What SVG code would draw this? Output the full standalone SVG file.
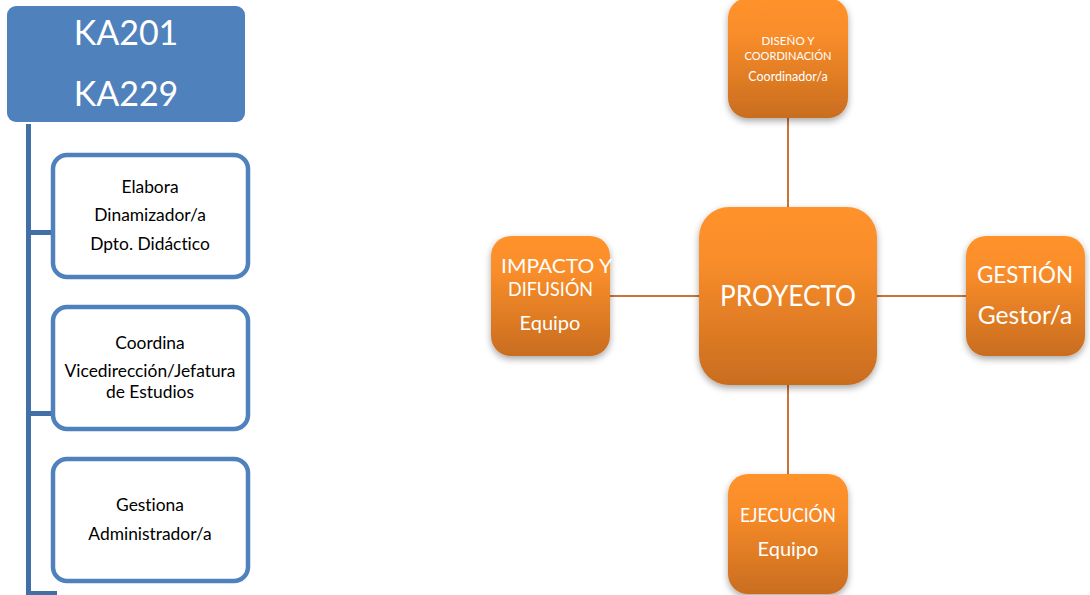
<svg xmlns="http://www.w3.org/2000/svg" width="1090" height="595" viewBox="0 0 1090 595">
<style>
text{font-family:Lato,"Liberation Sans",sans-serif;text-anchor:middle;font-variant-ligatures:none}
.o{fill:url(#og);filter:url(#sh)}
.w{fill:#fff}
.k{fill:#000;font-size:17.4px}
.c{fill:#fff;stroke:#4f81bd;stroke-width:4.5px}
.b{fill:#416fa6}
.l{stroke:#c8733a;stroke-width:2px;fill:none}
</style>
<defs>
<linearGradient id="og" x1="0" y1="0" x2="0" y2="1"><stop offset="0" stop-color="#ff922c"/><stop offset="0.3" stop-color="#f98d2a"/><stop offset="1" stop-color="#c96d1f"/></linearGradient>
<filter id="sh" x="-20%" y="-20%" width="140%" height="140%"><feDropShadow dx="0" dy="3" stdDeviation="3.5" flood-color="#000" flood-opacity="0.35"/></filter>
</defs>
<rect width="1090" height="595" fill="#fff"/>
<g id="connectors">
<rect class="b" x="26" y="124" width="5" height="471"/>
<rect class="b" x="31" y="230" width="21" height="5"/>
<rect class="b" x="31" y="411" width="21" height="5"/>
<rect class="b" x="31" y="591" width="26" height="4"/>
<path class="l" d="M788 118V207M788 385V474M610 296H699M877 296H966"/>
</g>
<g id="ka">
<rect x="7" y="6" width="238" height="116" rx="9" fill="#4f81bd"/>
<text class="w" x="126" y="45" font-size="34">KA201</text>
<text class="w" x="126" y="106" font-size="34">KA229</text>
</g>
<g id="elabora">
<rect class="c" x="53" y="155" width="195" height="122" rx="14"/>
<text class="k" x="150" y="193">Elabora</text>
<text class="k" x="150" y="221">Dinamizador/a</text>
<text class="k" x="150" y="250">Dpto. Didáctico</text>
</g>
<g id="coordina">
<rect class="c" x="53" y="307" width="195" height="122" rx="14"/>
<text class="k" x="150" y="349">Coordina</text>
<text class="k" x="150" y="377">Vicedirección/Jefatura</text>
<text class="k" x="150" y="398">de Estudios</text>
</g>
<g id="gestiona">
<rect class="c" x="53" y="459" width="195" height="122" rx="14"/>
<text class="k" x="150" y="511">Gestiona</text>
<text class="k" x="150" y="540">Administrador/a</text>
</g>
<g id="diseno">
<rect class="o" x="728" y="-2" width="120" height="120" rx="20"/>
<text class="w" x="788" y="45" font-size="11.5" textLength="53" lengthAdjust="spacingAndGlyphs">DISEÑO Y</text>
<text class="w" x="788" y="60" font-size="11.5" textLength="87" lengthAdjust="spacingAndGlyphs">COORDINACIÓN</text>
<text class="w" x="788" y="81" font-size="12.5">Coordinador/a</text>
</g>
<g id="impacto">
<rect class="o" x="491" y="236" width="119" height="120" rx="20"/>
<text class="w" x="556.5" y="273" font-size="20" textLength="111" lengthAdjust="spacingAndGlyphs">IMPACTO Y</text>
<text class="w" x="550.500" y="296" font-size="20" textLength="85" lengthAdjust="spacingAndGlyphs">DIFUSIÓN</text>
<text class="w" x="550" y="330" font-size="20">Equipo</text>
</g>
<g id="proyecto">
<rect class="o" x="699" y="207" width="178" height="178" rx="30"/>
<text class="w" x="788" y="306" font-size="29" textLength="136" lengthAdjust="spacingAndGlyphs">PROYECTO</text>
</g>
<g id="gestion">
<rect class="o" x="966" y="236" width="119" height="120" rx="20"/>
<text class="w" x="1025" y="283" font-size="23" textLength="96" lengthAdjust="spacingAndGlyphs">GESTIÓN</text>
<text class="w" x="1025" y="324" font-size="24.600">Gestor/a</text>
</g>
<g id="ejecucion">
<rect class="o" x="728" y="474" width="120" height="120" rx="20"/>
<text class="w" x="788" y="522" font-size="19" textLength="96" lengthAdjust="spacingAndGlyphs">EJECUCIÓN</text>
<text class="w" x="788" y="556" font-size="20">Equipo</text>
</g>
</svg>
